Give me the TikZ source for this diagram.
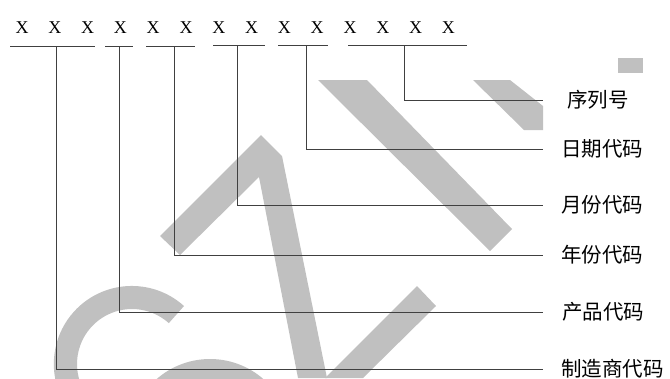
\documentclass[tikz,border=0pt]{standalone}
\usepackage{fontspec}
\setmainfont{Liberation Serif}
\newfontfamily\cjkfont{Noto Sans CJK SC}
\usetikzlibrary{positioning}
\definecolor{markgray}{HTML}{C0C0C0}
\tikzset{
  digit/.style={font=\fontsize{18}{18}\selectfont, inner sep=0pt},
  bar/.style={black!75, line width=0.8pt},
  codename/.style={anchor=west, outer sep=0pt, inner sep=0pt,
    font=\cjkfont\fontsize{20.5}{20.5}\selectfont},
}

\begin{document}
\begin{tikzpicture}[x=1pt, y=-1pt]
  \useasboundingbox (0,0) rectangle (670,378);

  % Watermark strokes in the background
  \begin{scope}
    \clip (0,0) rectangle (670,378);
    \fill[markgray] (318,80) -- (367,80) -- (512,229) -- (490,251) -- cycle;
    \fill[markgray] (473,80) -- (510,80) -- (543,106) -- (543,130) -- (524,130) -- cycle;
    \fill[markgray] (618,58) rectangle (643,73);
    \fill[markgray] (160,236) -- (261,135) -- (282,156) -- (327,378) -- (298,378) -- (259,177) -- (180,255) -- cycle;
    \fill[markgray] (417,286) -- (436,306) -- (363,378) -- (325,378) -- cycle;
    \fill[markgray] (184,306) arc[start angle=-48, end angle=-250, radius=78]
      -- (113.2,415.7) arc[start angle=-250, end angle=-48, radius=55] -- cycle;
    \fill[markgray] (210,440) circle[radius=81];
  \end{scope}

  % Code digits
  \foreach \i in {1,...,14} {
    \node[digit] (x\i) at ({22+32.8*(\i-1)}, 27.5) {X};
  }

  % Field names
  \node[codename] (serial) at (567,100) {序列号};
  \node[codename] (day)    at (561,149) {日期代码};
  \node[codename] (month)  at (561,205) {月份代码};
  \node[codename] (year)   at (561,255) {年份代码};
  \node[codename] (prod)   at (562,312) {产品代码};
  \node[codename] (maker)  at (561,369) {制造商代码};

  % Underlines and leaders
  \foreach \n/\l/\r/\m/\h/\name in {1/10/95/56/46/maker, 2/105/133/119/46/prod,
      3/146/195/174/46/year, 4/213/265/237/45/month, 5/278/328/306/45/day,
      6/348/467/404/45/serial} {
    \coordinate (ul\n) at (\l,\h);
    \coordinate (ur\n) at (\r,\h);
    \coordinate (um\n) at (\m,\h);
    \draw[bar] (ul\n) -- (ur\n);
    \draw[bar] (um\n) |- ([xshift=543pt]\name.west -| 0,0);
  }
\end{tikzpicture}
\end{document}
